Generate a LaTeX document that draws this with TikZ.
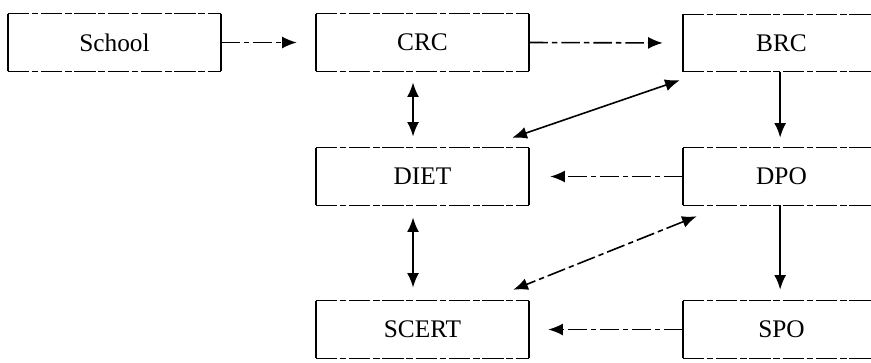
\documentclass[tikz,border=0pt]{standalone}
\usepackage{fontspec}
\setmainfont{Liberation Serif}
\usetikzlibrary{arrows.meta}
\begin{document}
\begin{tikzpicture}[x=0.75pt,y=-0.75pt,
  box/.style={minimum width=159.75pt, minimum height=42.75pt, inner sep=0pt,
    font=\fontsize{19}{21}\selectfont},
  wbox/.style={box, minimum width=147.75pt},
  vedge/.style={line width=1.3pt},
  hedge/.style={line width=1pt, dash pattern=on 16pt off 2pt on 5pt off 2pt},
  arr/.style={line width=1.2pt, -{Latex[length=11pt,width=9pt]}},
  darr/.style={line width=1.2pt, {Latex[length=11pt,width=9pt]}-{Latex[length=11pt,width=9pt]}},
  dsh/.style={dash pattern=on 14pt off 3pt on 4pt off 3pt}
]
\useasboundingbox (0,0) rectangle (871,362);
\node[box]  (school) at (114.5,42.5) {School};
\node[box]  (crc)    at (422.5,42.5) {CRC};
\node[wbox] (brc)    at (781.5,43)   {BRC};
\node[box]  (diet)   at (422.5,176.5) {DIET};
\node[wbox] (dpo)    at (781.5,176.5) {DPO};
\node[box]  (scert)  at (422.5,329.5) {SCERT};
\node[wbox] (spo)    at (781.5,329.5) {SPO};
\foreach \n in {school,crc,diet,scert}{
  \draw[vedge] (\n.north west) -- (\n.south west);
  \draw[vedge] (\n.north east) -- (\n.south east);
  \draw[hedge] (\n.north west) -- (\n.north east);
  \draw[hedge] (\n.south west) -- (\n.south east);
}
\foreach \n in {brc,dpo,spo}{
  \draw[vedge] (\n.north west) -- (\n.south west);
  \draw[hedge] (\n.north west) -- (\n.north east);
  \draw[hedge] (\n.south west) -- (\n.south east);
}
% horizontal arrows
\draw[arr, dsh, shorten >=14.25pt] (school.east) -- (crc.west);
\draw[arr, dsh, shorten >=15pt] (crc.east) -- (brc.west);
\draw[arr, dsh, shorten >=15.75pt] (dpo.west) -- (diet.east);
\draw[arr, dsh, shorten >=14.25pt] (spo.west) -- (scert.east);
% vertical arrows
\draw[darr, line width=1.6pt, shorten <=8.25pt, shorten >=8.25pt]
  ([xshift=-7.1pt]crc.south) -- ([xshift=-7.1pt]diet.north);
\draw[darr, line width=1.6pt, shorten <=9pt, shorten >=9.75pt]
  ([xshift=-7.1pt]diet.south) -- ([xshift=-7.1pt]scert.north);
\draw[arr, line width=1.6pt, shorten >=7.5pt] ([xshift=-1pt]brc.south) -- ([xshift=-1pt]dpo.north);
\draw[arr, line width=1.6pt, shorten >=8.25pt] ([xshift=-1pt]dpo.south) -- ([xshift=-1pt]spo.north);
% diagonal arrows
\draw[darr] ([shift={(-3,8.5)}]brc.south west) -- ([shift={(-17,-10)}]diet.north east);
\draw[darr, dsh] ([shift={(14,11)}]dpo.south west) -- ([shift={(-16,-11)}]scert.north east);
\end{tikzpicture}
\end{document}
